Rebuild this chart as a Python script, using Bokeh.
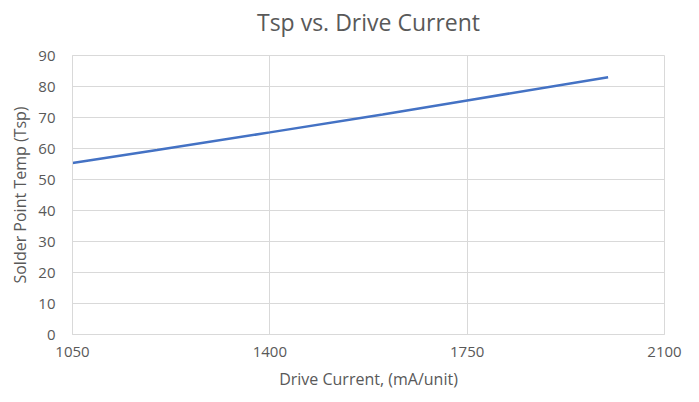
from bokeh.plotting import figure
from bokeh.models import FixedTicker, Range1d, ColumnDataSource, Title
from bokeh.embed import file_html
from bokeh.resources import INLINE

drive_current = [1050, 1200, 1400, 1600, 1750, 2000]
tsp = [55.3, 59.5, 65.2, 71.0, 75.5, 83.0]
x_ticks = [1050, 1400, 1750, 2100]
y_ticks = [0, 10, 20, 30, 40, 50, 60, 70, 80, 90]
title_text = "Tsp vs. Drive Current"

FONT = "Open Sans"
GRAY = "#595959"
GRID = "#d9d9d9"

p = figure(width=691, height=394, output_backend="svg", toolbar_location=None,
           x_range=Range1d(1050, 2100), y_range=Range1d(0, 90),
           min_border_left=72, min_border_right=27, min_border_top=55, min_border_bottom=60,
           title=title_text)
p.title.align = "center"
p.title.text_font = FONT
p.title.text_font_size = "23px"
p.title.text_font_style = "normal"
p.title.text_color = GRAY
p.title.offset = 0
p.title.standoff = 4

spacer = Title(text=" ", text_font_size="2px", standoff=12, text_color="white")
p.add_layout(spacer, "above")

src = ColumnDataSource(dict(x=drive_current, y=tsp))
p.line("x", "y", source=src, line_color="#4472c4", line_width=2.5)

p.xaxis.ticker = FixedTicker(ticks=x_ticks)
p.yaxis.ticker = FixedTicker(ticks=y_ticks)
p.xgrid.ticker = FixedTicker(ticks=x_ticks)
p.ygrid.ticker = FixedTicker(ticks=y_ticks)
p.grid.grid_line_color = GRID
p.grid.grid_line_width = 1

for ax in (p.xaxis, p.yaxis):
    ax.major_tick_line_color = None
    ax.minor_tick_line_color = None
    ax.major_tick_out = 0
    ax.major_tick_in = 0
    ax.minor_tick_out = 0
    ax.minor_tick_in = 0
    ax.major_label_text_font = FONT
    ax.major_label_text_font_size = "15px"
    ax.major_label_text_color = GRAY
    ax.axis_label_text_font = FONT
    ax.axis_label_text_font_size = "16px"
    ax.axis_label_text_font_style = "normal"
    ax.axis_label_text_color = GRAY
    ax.axis_line_color = GRID

p.xaxis.axis_label = "Drive Current, (mA/unit)"
p.yaxis.axis_label = "Solder Point Temp (Tsp)"
p.xaxis.major_label_standoff = 12
p.yaxis.major_label_standoff = 17
p.xaxis.axis_label_standoff = 8
p.yaxis.axis_label_standoff = 4

p.outline_line_color = GRID
p.background_fill_color = "white"
p.border_fill_color = "white"

open("out.html", "w").write(file_html(p, INLINE))
